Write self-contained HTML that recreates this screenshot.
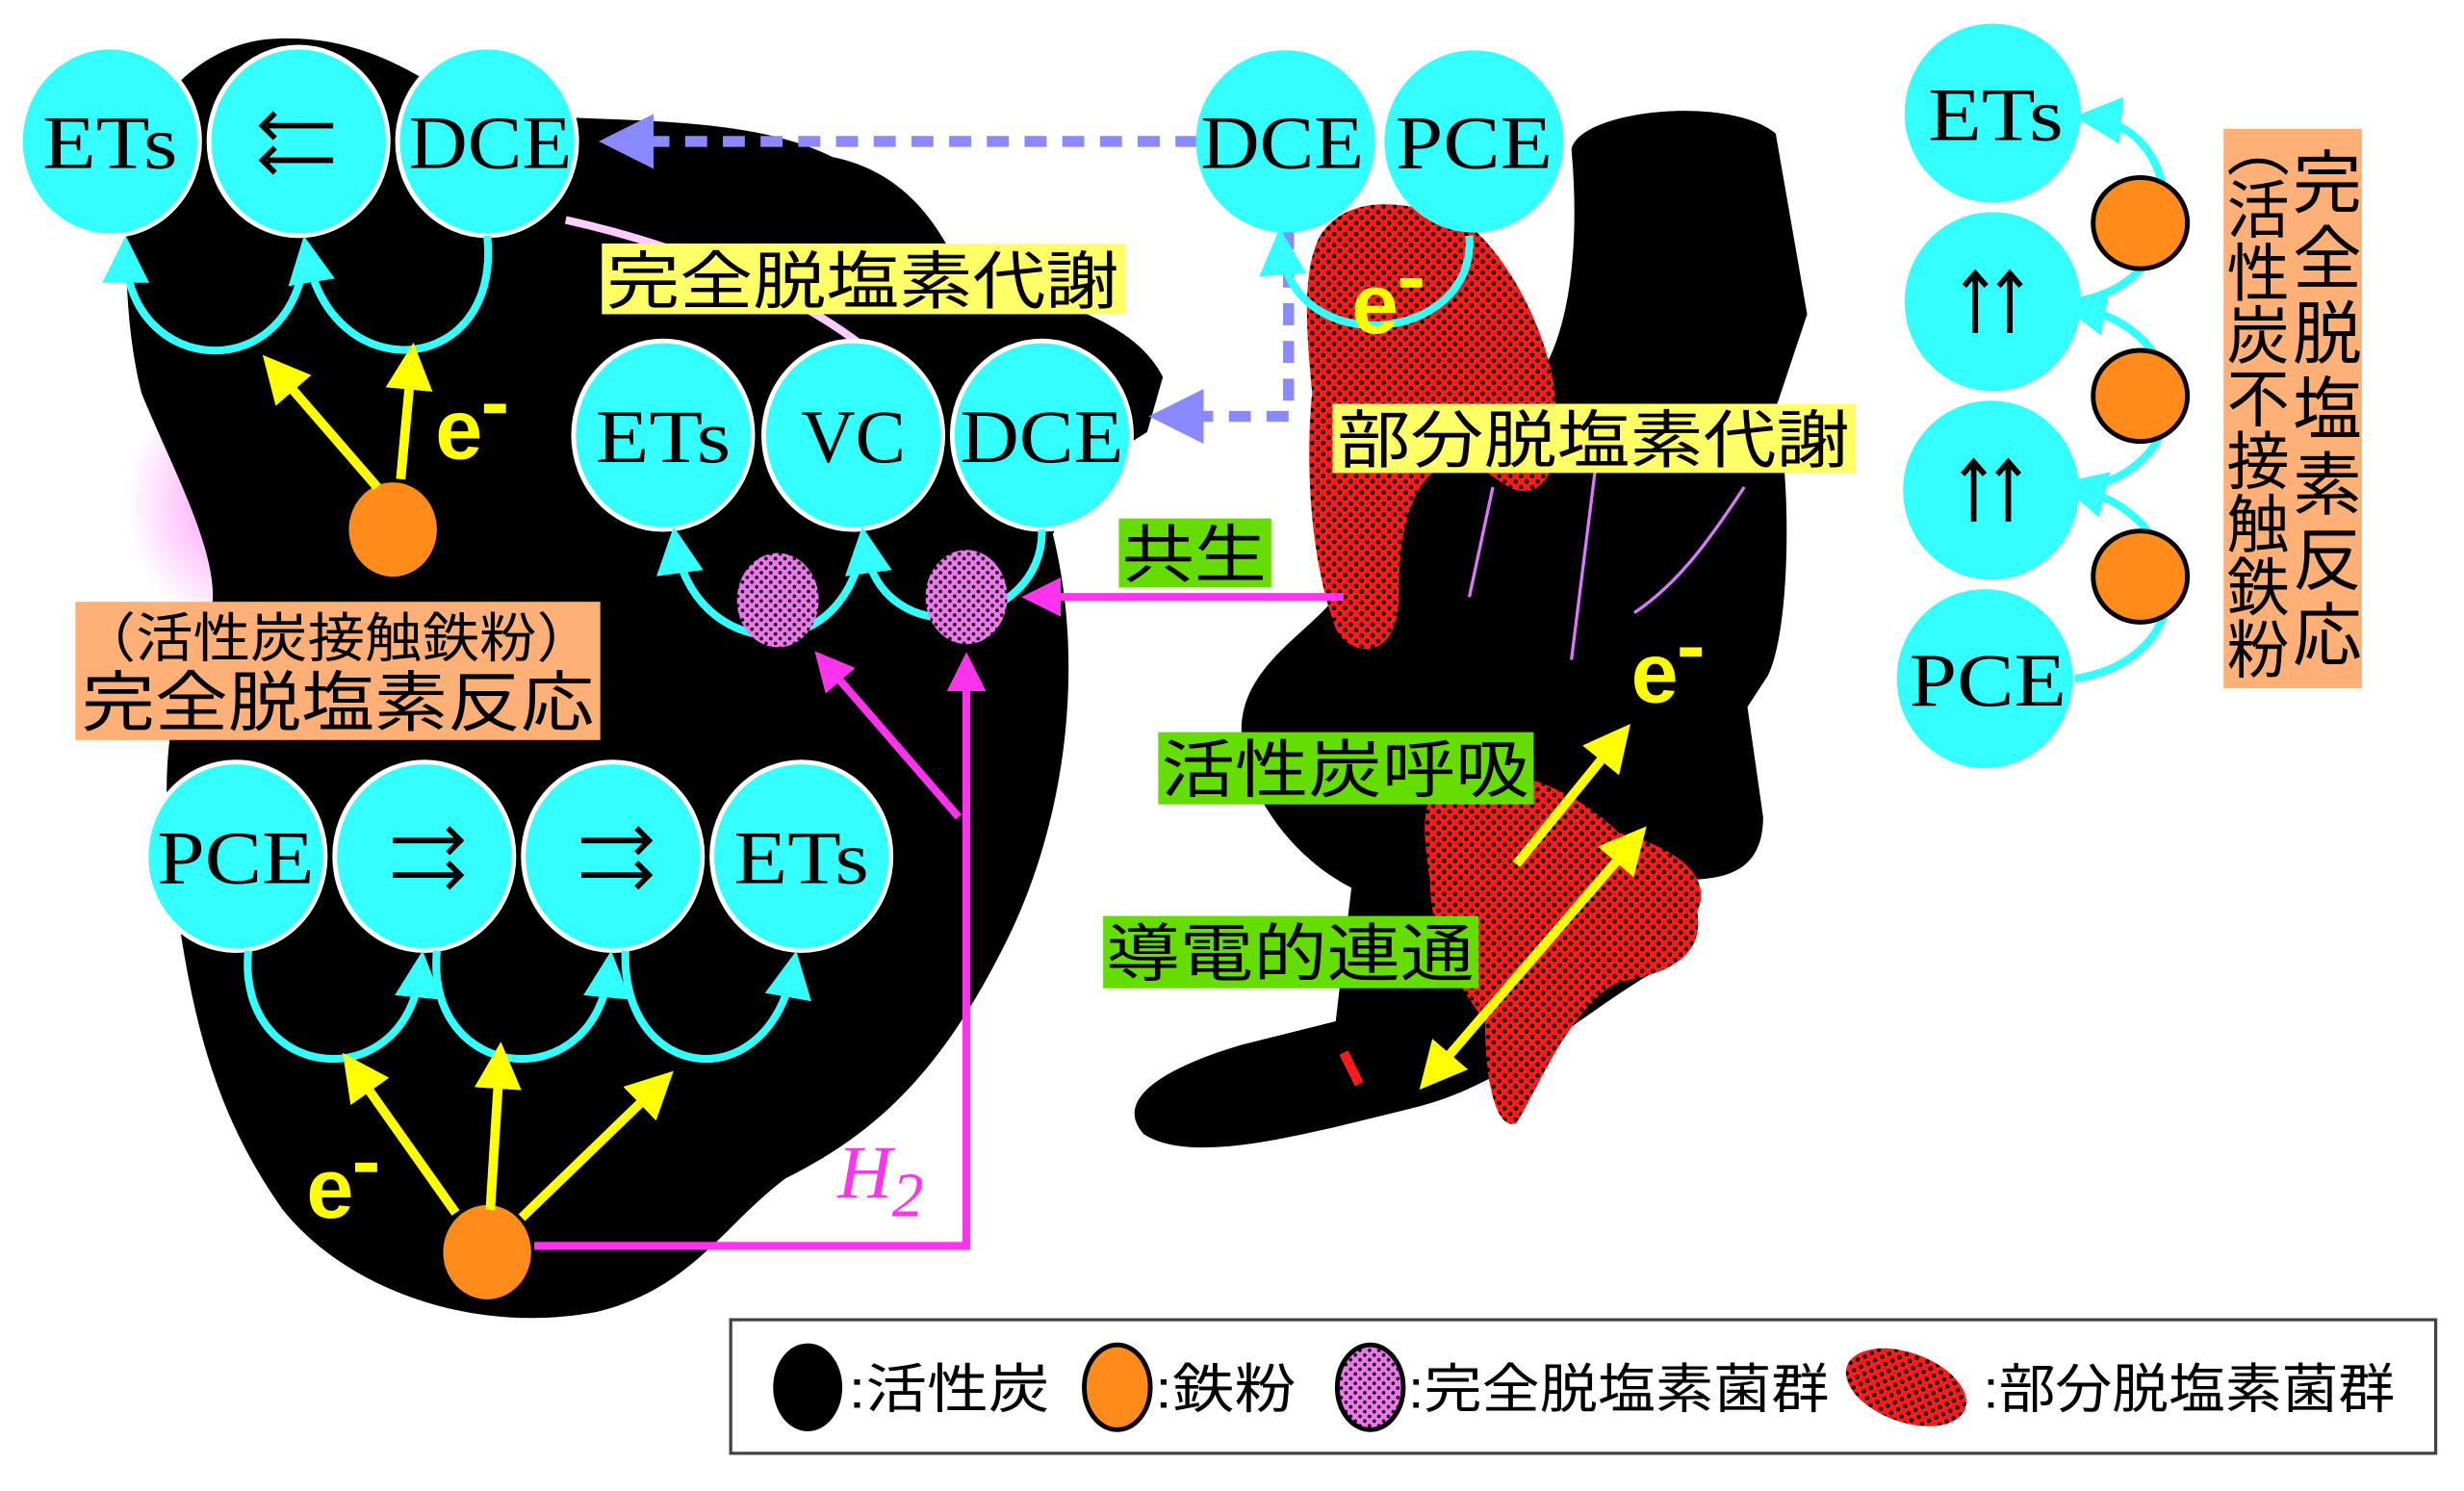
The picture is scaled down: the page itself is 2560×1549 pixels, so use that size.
<!DOCTYPE html>
<html><head><meta charset="utf-8"><style>
html,body{margin:0;padding:0;background:#fff;width:2560px;height:1549px;overflow:hidden}
svg{display:block}
.t{font-family:"Liberation Serif",serif;font-size:48px;fill:#000}
.j{font-family:"Liberation Sans","Noto Sans CJK JP",sans-serif;fill:#000}
.e{font-family:"Liberation Sans",sans-serif;font-weight:bold;fill:#ffff00;font-size:54px}
</style></head><body>
<svg width="2560" height="1549" viewBox="0 0 1568 949" preserveAspectRatio="none" xmlns="http://www.w3.org/2000/svg">
<defs>
<pattern id="rd" width="7" height="7" patternUnits="userSpaceOnUse"><rect width="7" height="7" fill="#ff1a1a"/><circle cx="2" cy="2" r="1.4" fill="#000"/><circle cx="5.5" cy="5.5" r="1.4" fill="#000"/></pattern>
<pattern id="pd" width="6" height="6" patternUnits="userSpaceOnUse"><rect width="6" height="6" fill="#ee77ee"/><circle cx="1.5" cy="1.5" r="1.1" fill="#000"/><circle cx="4.5" cy="4.5" r="1.1" fill="#000"/></pattern>
<radialGradient id="gl"><stop offset="0" stop-color="#ff66ff" stop-opacity="0.7"/><stop offset="1" stop-color="#ff66ff" stop-opacity="0"/></radialGradient>
<marker id="ac" markerWidth="6" markerHeight="6" refX="4" refY="3" orient="auto" markerUnits="strokeWidth"><path d="M0,0 L6,3 L0,6 Z" fill="#33ffff"/></marker>
<marker id="ay" markerWidth="5" markerHeight="5" refX="3" refY="2.5" orient="auto" markerUnits="strokeWidth"><path d="M0,0 L5,2.5 L0,5 Z" fill="#ffff00"/></marker>
<marker id="ay2" markerWidth="5" markerHeight="5" refX="2" refY="2.5" orient="auto-start-reverse" markerUnits="strokeWidth"><path d="M0,0 L5,2.5 L0,5 Z" fill="#ffff00"/></marker>
<marker id="am" markerWidth="5" markerHeight="5" refX="3" refY="2.5" orient="auto" markerUnits="strokeWidth"><path d="M0,0 L5,2.5 L0,5 Z" fill="#ff33ee"/></marker>
<marker id="ap" markerWidth="5" markerHeight="5" refX="3" refY="2.5" orient="auto" markerUnits="strokeWidth"><path d="M0,0 L5,2.5 L0,5 Z" fill="#8888ff"/></marker>
</defs>
<ellipse cx="150" cy="320" rx="70" ry="80" fill="url(#gl)"/>
<path d="M80,130 C80,80 120,30 170,25 C230,20 270,50 300,70 C380,80 470,70 530,100 C580,110 600,150 610,170 C660,190 720,200 740,240 L730,275 L690,300 L670,340 C690,420 680,520 640,600 C600,680 560,720 500,750 C460,780 440,820 380,835 C300,850 220,820 180,770 C130,700 120,630 110,560 C100,480 110,440 130,400 C150,370 110,300 90,250 C80,210 80,170 80,130 Z" fill="#000"/>
<path d="M1000,95 C1005,70 1100,60 1130,85 L1150,200 L1130,260 C1140,300 1140,400 1125,430 L1112,450 L1122,520 C1122,560 1090,560 1065,560 L1050,620 C1000,650 960,690 900,705 C830,722 760,742 728,722 C708,700 740,680 790,665 L850,650 L860,565 C820,545 790,500 790,465 C790,425 830,405 850,380 L850,300 L900,250 L985,230 C1000,200 1005,150 1000,95 Z" fill="#000"/>
<path d="M360,140 C450,160 540,200 580,250" stroke="#ffccff" stroke-width="5" fill="none"/>
<path d="M950,310 L935,380 M1015,300 L1000,420 M1110,310 C1090,340 1070,370 1040,390" stroke="#dd77ff" stroke-width="2" fill="none"/>
<path d="M840,150 C860,120 900,130 930,140 C960,160 990,220 990,260 C995,300 980,320 960,310 L930,290 C900,300 890,330 890,380 C890,420 860,420 850,400 C835,360 830,300 835,250 C830,200 830,170 840,150 Z" fill="url(#rd)"/>
<path d="M915,500 C950,480 1000,500 1030,530 C1070,540 1090,560 1080,580 C1085,610 1060,620 1030,625 C1000,640 980,690 965,715 C950,720 945,680 945,650 C930,630 910,600 910,560 C905,530 905,510 915,500 Z" fill="url(#rd)"/>
<path d="M855,670 L865,690" stroke="#ff1a1a" stroke-width="6"/>
<path d="M762,90 L395,90" stroke="#8888ff" stroke-width="7" stroke-dasharray="14,10" fill="none" marker-end="url(#ap)"/>
<path d="M820,145 L820,265 L745,265" stroke="#8888ff" stroke-width="7" stroke-dasharray="14,10" fill="none" marker-end="url(#ap)"/>
<g stroke="#fff" stroke-width="3" fill="#33ffff">
<ellipse cx="70" cy="90" rx="57" ry="60"/><ellipse cx="190" cy="90" rx="57" ry="60"/><ellipse cx="310" cy="90" rx="57" ry="60"/>
<ellipse cx="422" cy="277" rx="57" ry="60"/><ellipse cx="543" cy="277" rx="57" ry="60"/><ellipse cx="663" cy="277" rx="57" ry="60"/>
<ellipse cx="150" cy="545" rx="57" ry="60"/><ellipse cx="270" cy="545" rx="57" ry="60"/><ellipse cx="390" cy="545" rx="57" ry="60"/><ellipse cx="510" cy="545" rx="57" ry="60"/>
</g>
<g fill="#33ffff">
<ellipse cx="818" cy="90" rx="57" ry="58"/><ellipse cx="938" cy="90" rx="57" ry="58"/>
<ellipse cx="1268" cy="72" rx="56" ry="57"/><ellipse cx="1268" cy="192" rx="56" ry="57"/><ellipse cx="1267" cy="312" rx="56" ry="57"/><ellipse cx="1263" cy="432" rx="56" ry="57"/>
</g>
<g class="t" text-anchor="middle">
<text x="70" y="107" textLength="86" lengthAdjust="spacingAndGlyphs">ETs</text><text x="312" y="107" textLength="104" lengthAdjust="spacingAndGlyphs">DCE</text>
<text x="422" y="294" textLength="86" lengthAdjust="spacingAndGlyphs">ETs</text><text x="543" y="294">VC</text><text x="663" y="294" textLength="104" lengthAdjust="spacingAndGlyphs">DCE</text>
<text x="150" y="562" textLength="100" lengthAdjust="spacingAndGlyphs">PCE</text><text x="510" y="562" textLength="86" lengthAdjust="spacingAndGlyphs">ETs</text>
<text x="816" y="107" textLength="104" lengthAdjust="spacingAndGlyphs">DCE</text><text x="938" y="107" textLength="100" lengthAdjust="spacingAndGlyphs">PCE</text>
<text x="1270" y="89" textLength="86" lengthAdjust="spacingAndGlyphs">ETs</text><text x="1265" y="449" textLength="100" lengthAdjust="spacingAndGlyphs">PCE</text>
</g>
<g stroke="#000" stroke-width="3.5" fill="none">
<path d="M170,80 L212,80 M175,72 L167,80 L175,88 M170,102 L212,102 M175,94 L167,102 L175,110"/>
<path d="M250,535 L292,535 M285,527 L293,535 L285,543 M250,557 L292,557 M285,549 L293,557 L285,565"/>
<path d="M370,535 L412,535 M405,527 L413,535 L405,543 M370,557 L412,557 M405,549 L413,557 L405,565"/>
<path d="M1257,175 L1257,212 M1250,182 L1257,174 L1264,182 M1279,175 L1279,212 M1272,182 L1279,174 L1286,182"/>
<path d="M1256,295 L1256,332 M1249,302 L1256,294 L1263,302 M1278,295 L1278,332 M1271,302 L1278,294 L1285,302"/>
</g>
<g stroke="#33ffff" stroke-width="5" fill="none" marker-end="url(#ac)">
<path d="M310,150 C320,240 210,250 195,160"/>
<path d="M195,155 C190,250 80,240 80,160"/>
<path d="M663,337 C665,400 560,420 550,345"/>
<path d="M550,340 C540,430 440,420 430,345"/>
<path d="M158,605 C150,690 260,700 268,615"/>
<path d="M278,605 C270,690 380,700 388,615"/>
<path d="M398,605 C395,690 490,700 505,615"/>
<path d="M935,150 C940,220 820,230 815,155"/>
<path d="M1320,432 C1400,420 1400,330 1320,310"/>
<path d="M1320,312 C1400,300 1400,210 1320,195"/>
<path d="M1320,192 C1400,180 1390,80 1330,75"/>
</g>
<ellipse cx="495" cy="382" rx="26" ry="30" fill="url(#pd)"/>
<ellipse cx="615" cy="380" rx="26" ry="30" fill="url(#pd)"/>
<g stroke="#ff33ee" stroke-width="5" fill="none">
<path d="M855,380 L660,380" marker-end="url(#am)"/>
<path d="M340,793 L615,793 L615,425" marker-end="url(#am)"/>
<path d="M610,520 L525,422" marker-end="url(#am)"/>
</g>
<ellipse cx="250" cy="337" rx="28" ry="30" fill="#ff8c1a"/>
<ellipse cx="310" cy="797" rx="28" ry="30" fill="#ff8c1a"/>
<g fill="#ff8c1a" stroke="#000" stroke-width="3">
<ellipse cx="1362" cy="142" rx="30" ry="29"/><ellipse cx="1362" cy="252" rx="30" ry="29"/><ellipse cx="1362" cy="367" rx="30" ry="29"/>
</g>
<g stroke="#ffff00" stroke-width="6" fill="none">
<path d="M240,310 L175,235" marker-end="url(#ay)"/>
<path d="M255,305 L262,230" marker-end="url(#ay)"/>
<path d="M290,772 L225,680" marker-end="url(#ay)"/>
<path d="M312,770 L318,675" marker-end="url(#ay)"/>
<path d="M332,775 L420,690" marker-end="url(#ay)"/>
<path d="M965,550 L1030,470" marker-end="url(#ay)"/>
<path d="M915,680 L1040,535" marker-end="url(#ay)" marker-start="url(#ay2)"/>
</g>
<g fill="#ffff00">
<text class="e" x="277" y="292">e</text><rect x="308" y="257" width="14" height="6"/>
<text class="e" x="195" y="775">e</text><rect x="226" y="740" width="14" height="6"/>
<text class="e" x="860" y="212">e</text><rect x="891" y="177" width="14" height="6"/>
<text class="e" x="1038" y="447">e</text><rect x="1069" y="412" width="14" height="6"/>
</g>
<text x="533" y="762" font-family="Liberation Serif,serif" font-style="italic" font-size="48" fill="#ff33ee">H<tspan font-size="40" dy="12">2</tspan></text>
<rect x="383" y="155" width="333" height="45" fill="#ffff66"/>
<text class="j" x="386" y="193" font-size="40" textLength="326" lengthAdjust="spacingAndGlyphs">完全脱塩素代謝</text>
<rect x="848" y="257" width="333" height="44" fill="#ffff66"/>
<text class="j" x="851" y="294" font-size="40" textLength="326" lengthAdjust="spacingAndGlyphs">部分脱塩素代謝</text>
<rect x="712" y="330" width="97" height="44" fill="#66dd00"/>
<text class="j" x="714" y="367" font-size="40" textLength="92" lengthAdjust="spacingAndGlyphs">共生</text>
<rect x="737" y="466" width="239" height="46" fill="#66dd00"/>
<text class="j" x="739" y="504" font-size="40" textLength="234" lengthAdjust="spacingAndGlyphs">活性炭呼吸</text>
<rect x="702" y="583" width="239" height="46" fill="#66dd00"/>
<text class="j" x="704" y="621" font-size="40" textLength="234" lengthAdjust="spacingAndGlyphs">導電的連通</text>
<rect x="48" y="383" width="334" height="88" fill="#ffb077"/>
<text class="j" x="50" y="418" font-size="34" textLength="328" lengthAdjust="spacingAndGlyphs">（活性炭接触鉄粉）</text>
<text class="j" x="52" y="462" font-size="42" textLength="326" lengthAdjust="spacingAndGlyphs">完全脱塩素反応</text>
<rect x="1415" y="82" width="88" height="356" fill="#ffb077"/>
<g class="j" font-size="44" text-anchor="middle">
<text x="1481" y="132">完</text><text x="1481" y="180">全</text><text x="1481" y="228">脱</text><text x="1481" y="276">塩</text><text x="1481" y="324">素</text><text x="1481" y="372">反</text><text x="1481" y="420">応</text>
</g>
<g class="j" font-size="40" text-anchor="middle">
<text x="1437" y="108">︵</text><text x="1437" y="148">活</text><text x="1437" y="188">性</text><text x="1437" y="228">炭</text><text x="1437" y="268">不</text><text x="1437" y="308">接</text><text x="1437" y="348">触</text><text x="1437" y="388">鉄</text><text x="1437" y="428">粉</text>
</g>
<rect x="465" y="840" width="1085" height="85" fill="#fff" stroke="#444" stroke-width="2"/>
<ellipse cx="514" cy="883" rx="22" ry="28" fill="#000"/>
<ellipse cx="711" cy="883" rx="21" ry="27" fill="#ff8c1a" stroke="#000" stroke-width="3"/>
<ellipse cx="872" cy="883" rx="21" ry="27" fill="url(#pd)" stroke="#000" stroke-width="3"/>
<ellipse cx="1213" cy="883" rx="40" ry="22" fill="url(#rd)" transform="rotate(20 1213 883)"/>
<g class="j" font-size="34">
<text x="540" y="896" textLength="128" lengthAdjust="spacingAndGlyphs">:活性炭</text><text x="735" y="896" textLength="90" lengthAdjust="spacingAndGlyphs">:鉄粉</text><text x="896" y="896" textLength="268" lengthAdjust="spacingAndGlyphs">:完全脱塩素菌群</text><text x="1262" y="896" textLength="262" lengthAdjust="spacingAndGlyphs">:部分脱塩素菌群</text>
</g>
</svg>
</body></html>
